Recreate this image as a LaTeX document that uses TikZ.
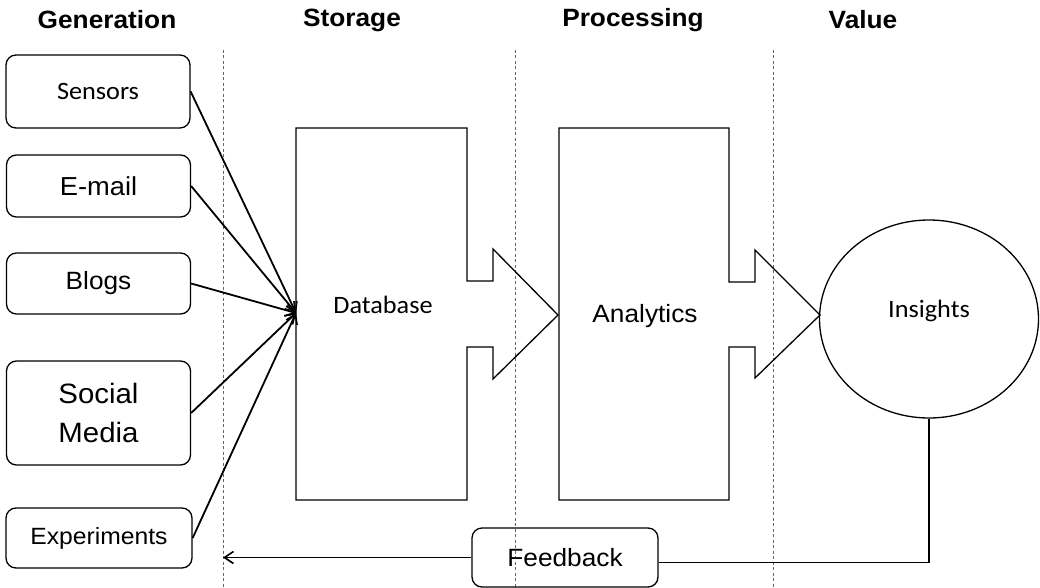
\documentclass[tikz,border=0pt]{standalone}
\usepackage{fontspec}
\setmainfont[FakeStretch=1.05]{Liberation Sans}
\newfontfamily\calfont[FakeStretch=1.05]{Carlito}
\usetikzlibrary{arrows.meta,shapes.geometric}
\begin{document}
\begin{tikzpicture}[x=1pt,y=-1pt,
  head/.style={font=\fontsize{25}{30}\selectfont\bfseries},
  srcbox/.style={draw,line width=1.3pt,rounded corners=10pt,minimum width=184pt,align=center,inner sep=0pt},
  txt/.style={font=\fontsize{25}{30}\selectfont},
  ctxt/.style={font=\calfont\fontsize{25}{30}\selectfont},
  shapeline/.style={draw,line width=1.3pt,line join=miter},
  arr/.style={line width=1.8pt,-{Straight Barb[length=9pt,width=12pt,line width=1.6pt]}},
  sep/.style={gray!80!black,line width=1pt,dash pattern=on 3pt off 2.5pt}
]
\useasboundingbox (0,0) rectangle (1040,588);
\fill[white] (0,0) rectangle (1040,588);

% headers
\node[head] (hgen) at (107,20) {Generation};
\node[head] (hsto) at (352,20) {Storage};
\node[head] (hpro) at (633,20) {Processing};
\node[head] (hval) at (863,20) {Value};

% separators
\draw[sep] (223,50) -- (223,588);
\draw[sep] (515,50) -- (515,588);
\draw[sep] (773,50) -- (773,588);

% source boxes
\node[srcbox,minimum height=73pt,font=\calfont\fontsize{25}{30}\selectfont] (sen) at (98,91.5) {Sensors};
\node[srcbox,minimum height=62pt,font=\fontsize{26}{30}\selectfont] (mail) at (98.5,186) {E-mail};
\node[srcbox,minimum height=61pt,font=\fontsize{25}{30}\selectfont] (blog) at (98.5,283.5) {Blogs};
\node[srcbox,minimum height=104pt,font=\fontsize{28}{39}\selectfont] (soc) at (98.5,413) {Social\\Media};
\node[srcbox,minimum height=60pt,minimum width=186pt,font=\fontsize{23.5}{28}\selectfont] (exp) at (99,538) {Experiments};

% database shape
\draw[shapeline] (296,128) -- (467,128) -- (467,281) -- (493,281) -- (493,249) -- (558,315)
  -- (493,379) -- (493,347) -- (467,347) -- (467,500) -- (296,500) -- cycle;
\node[ctxt] (db) at (383,305) {Database};
\coordinate (dbin) at (296,313);

% analytics shape
\draw[shapeline] (559,128) -- (729,128) -- (729,282) -- (755,282) -- (755,250) -- (820,315)
  -- (755,378) -- (755,347) -- (729,347) -- (729,500) -- (559,500) -- cycle;
\node[txt] (an) at (645,316) {Analytics};

% insights
\node[draw,line width=1.3pt,ellipse,minimum width=219pt,minimum height=198pt,inner sep=0pt] (ins) at (929,319) {};
\node[ctxt] (inst) at (929,311) {Insights};

% feedback
\node[srcbox,minimum height=59pt,minimum width=186pt,font=\fontsize{25}{30}\selectfont] (fb) at (565,557.5) {Feedback};
\coordinate (fbend) at (223,557.5);

% arrows to database
\draw[arr] (sen.east) -- (dbin);
\draw[arr] (mail.east) -- (dbin);
\draw[arr] (blog.east) -- (dbin);
\draw[arr] (soc.east) -- (dbin);
\draw[arr] (exp.east) -- (dbin);

% feedback loop
\draw[line width=1.8pt] (ins.south) |- ([yshift=-5pt]fb.east);
\draw[arr] (fb.west) -- (fbend);
\end{tikzpicture}
\end{document}
